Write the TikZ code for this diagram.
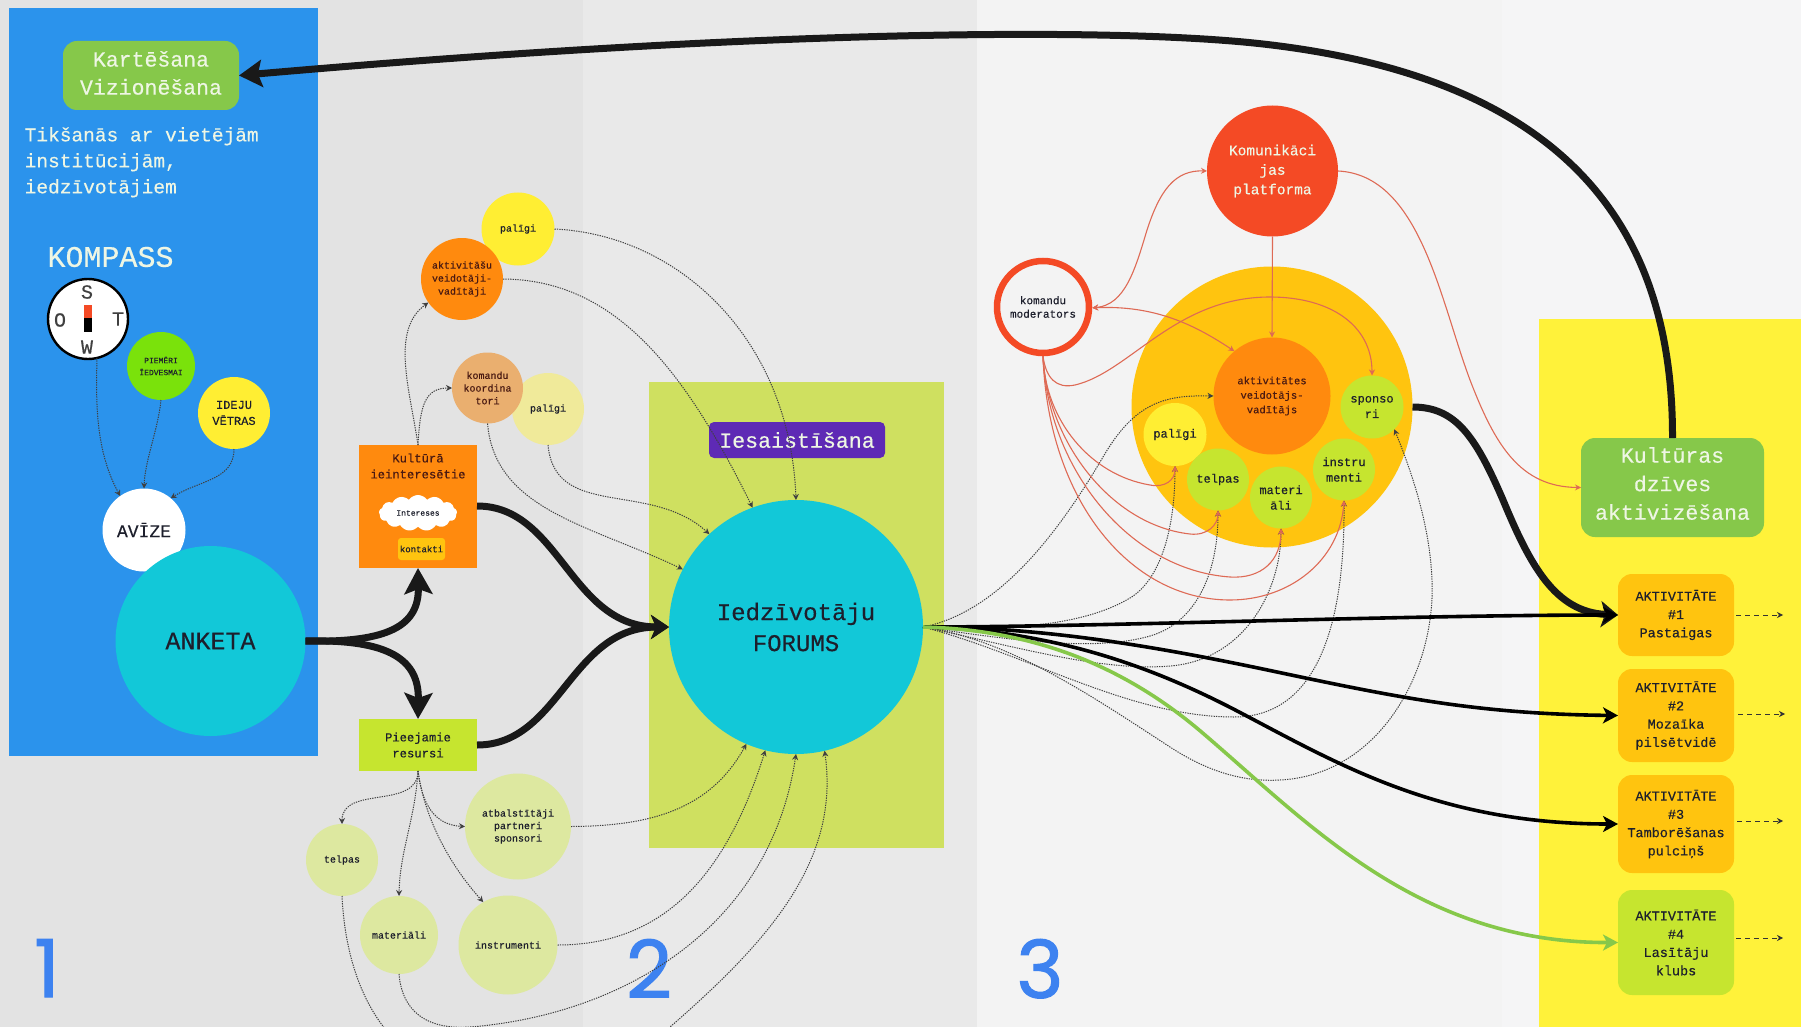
\documentclass[tikz,border=0pt]{standalone}
\usepackage{fontspec}
\setmainfont[FakeBold=0.35]{Liberation Mono}
\newfontfamily\numfont[FakeBold=1.4]{Poppins}
\usetikzlibrary{arrows.meta,shapes.symbols}
\newcommand{\fs}[2]{\fontsize{#1}{#2}\selectfont}
\definecolor{bandA}{HTML}{E3E3E3}
\definecolor{bandB}{HTML}{E9E9E9}
\definecolor{bandC}{HTML}{F3F3F3}
\definecolor{bandD}{HTML}{F5F5F6}
\definecolor{blueP}{HTML}{2B93EC}
\definecolor{cyanC}{HTML}{12C8D8}
\definecolor{leaf}{HTML}{86C84A}
\definecolor{limeA}{HTML}{CFE060}
\definecolor{limeB}{HTML}{C6E52F}
\definecolor{limeC}{HTML}{DDE8A0}
\definecolor{limeD}{HTML}{7AE20B}
\definecolor{yelA}{HTML}{FFF23A}
\definecolor{yelB}{HTML}{FFEE33}
\definecolor{paleY}{HTML}{F0EA9A}
\definecolor{amber}{HTML}{FFC40F}
\definecolor{orng}{HTML}{FF8A0E}
\definecolor{sand}{HTML}{EAAF6F}
\definecolor{redC}{HTML}{F44A25}
\definecolor{redL}{HTML}{DE6A55}
\definecolor{purp}{HTML}{5E2AB5}
\definecolor{ink}{HTML}{1D1F2C}
\definecolor{maroon}{HTML}{4A1A12}
\definecolor{soft}{HTML}{EEF6E4}
\definecolor{numblue}{HTML}{3D82F0}
\tikzset{
  disc/.style={circle,inner sep=0pt,outer sep=0pt,align=center,text=ink},
  panel/.style={rectangle,inner sep=0pt,outer sep=0pt,align=center,text=ink},
  rbox/.style={panel,rounded corners=14pt},
  dotline/.style={draw=black!75,line width=1pt,dash pattern=on 1.3pt off 1.1pt,-{Stealth[length=6pt,width=6pt]}},
  dashline/.style={draw=black!80,line width=1pt,dash pattern=on 5pt off 4pt,-{Stealth[length=6pt,width=6pt]}},
  redline/.style={draw=redL,line width=1.1pt,-{Stealth[length=6pt,width=6pt]}},
  redboth/.style={draw=redL,line width=1.1pt,{Stealth[length=6pt,width=6pt]}-{Stealth[length=6pt,width=6pt]}},
  heavy/.style={draw=black!90,line width=7pt},
  medium/.style={draw=black,line width=3.6pt,-{Stealth[length=15pt,width=16pt,inset=4pt]}},
  numeral/.style={text=numblue,font=\numfont\fs{80}{80}}
}
\begin{document}
\begin{tikzpicture}[x=1pt,y=-1pt]
\useasboundingbox (0,0) rectangle (1801,1027);
\clip (0,0) rectangle (1801,1027);
% bands
\fill[bandA] (0,0) rectangle (583,1027);
\fill[bandB] (583,0) rectangle (977,1027);
\fill[bandC] (977,0) rectangle (1502,1027);
\fill[bandD] (1502,0) rectangle (1801,1027);
\fill[yelA] (1539,319) rectangle (1801,1027);
\fill[limeA] (649,382) rectangle (944,848);
% blue panel
\node[panel,fill=blueP,minimum width=309pt,minimum height=748pt] (bluepanel) at (163.5,382) {};
\node[rbox,fill=leaf,minimum width=176pt,minimum height=69pt] (kart) at (151,75.5) {};
\node[inner sep=0pt,align=center,text=soft,font=\fs{21.5}{28}] (karttext) at (151,73) {Kartēšana\\Vizionēšana};
\node[anchor=north west,inner sep=0pt,align=left,text=soft,font=\fs{19.5}{26}] (tiks) at (24.5,127) {Tikšanās ar vietējām\\institūcijām,\\iedzīvotājiem};
\node[text=soft,inner sep=0pt,font=\fs{30}{30}] (kompass) at (110.5,257) {KOMPASS};
% compass
\node[disc,fill=white,draw=black,line width=2.4pt,minimum size=80pt] (compass) at (88,319) {};
\node[text=black!75,inner sep=0pt,font=\fs{20}{20}] (cs) at (87,292) {S};
\node[text=black!75,inner sep=0pt,font=\fs{20}{20}] (co) at (60,320) {O};
\node[text=black!75,inner sep=0pt,font=\fs{20}{20}] (ct) at (118,319) {T};
\node[text=black!75,inner sep=0pt,font=\fs{20}{20}] (cw) at (87,347) {W};
\fill[redC] (84,305) rectangle (92,318);
\fill[black] (84,318) rectangle (92,332);
\node[disc,fill=limeD,minimum size=68pt,font=\fs{8}{12}] (piem) at (161,366) {PIEMĒRI\\ĪEDVESMAI};
\node[disc,fill=yelB,minimum size=72pt,font=\fs{12}{16}] (idej) at (234,413) {IDEJU\\VĒTRAS};
\node[disc,fill=white,minimum size=83pt,font=\fs{18}{18}] (aviz) at (144,530) {AVĪZE};
\node[disc,fill=cyanC,minimum size=190pt,font=\fs{25}{25}] (anke) at (210.5,641) {ANKETA};
% column 2 upper
\node[disc,fill=yelB,minimum size=73pt,font=\fs{10}{13}] (pal1) at (518,229) {palīgi};
\node[disc,fill=orng,minimum size=82pt,text=maroon,font=\fs{10}{13}] (akt1) at (462,279) {aktivitāšu\\veidotāji-\\vadītāji};
\node[disc,fill=paleY,minimum size=72pt,font=\fs{10}{13}] (pal2) at (548,409) {palīgi};
\node[disc,fill=sand,minimum size=71pt,text=maroon,font=\fs{10}{12.7}] (koor) at (487.5,388) {komandu\\koordina\\tori};
\node[panel,fill=orng,minimum width=118pt,minimum height=123pt] (kult) at (418,506.5) {};
\node[inner sep=0pt,align=center,text=maroon,font=\fs{12.2}{16}] (kulttext) at (418,466) {Kultūrā\\ieinteresētie};
\node[cloud,cloud puffs=13,cloud puff arc=110,aspect=2.4,fill=white,inner sep=0pt,outer sep=0pt,minimum width=78pt,minimum height=36pt,text=ink,font=\fs{8}{8}] (clou) at (418,513) {Intereses};
\node[panel,fill=amber,rounded corners=3pt,minimum width=47pt,minimum height=22pt,font=\fs{9}{9}] (kont) at (421.5,549) {kontakti};
\node[panel,fill=limeB,minimum width=118pt,minimum height=52pt,font=\fs{12.2}{16}] (piee) at (418,745) {Pieejamie\\resursi};
% column 2 lower
\node[disc,fill=limeC,minimum size=106pt,font=\fs{10}{12.5}] (atba) at (518,826.5) {atbalstītāji\\partneri\\sponsori};
\node[disc,fill=limeC,minimum size=72pt,font=\fs{10}{10}] (tel1) at (342,860) {telpas};
\node[disc,fill=limeC,minimum size=78pt,font=\fs{10}{10}] (mat1) at (399,935) {materiāli};
\node[disc,fill=limeC,minimum size=99pt,font=\fs{10}{10}] (ins1) at (508,945) {instrumenti};
% forum
\node[disc,fill=cyanC,minimum size=254pt,font=\fs{24}{31}] (foru) at (796,627) {Iedzīvotāju\\FORUMS};
\node[panel,fill=purp,rounded corners=5pt,minimum width=176pt,minimum height=36pt,text=soft,font=\fs{21.6}{21.6}] (iesa) at (797,440) {Iesaistīšana};
% column 3
\node[disc,fill=amber,minimum size=281pt] (bigc) at (1272,407) {};
\node[disc,fill=redC,minimum size=131pt,text=soft,font=\fs{14.5}{19.5}] (komu) at (1272.5,171) {Komunikāci\\jas\\platforma};
\node[disc,fill=bandC,draw=redC,line width=6.5pt,outer sep=3.25pt,minimum size=92pt,font=\fs{11}{13.5}] (mode) at (1043,307) {komandu\\moderators};
\node[disc,fill=orng,minimum size=117pt,text=maroon,font=\fs{10.5}{14.5}] (akt2) at (1272,396) {aktivitātes\\veidotājs-\\vadītājs};
\node[disc,fill=limeB,minimum size=63pt,font=\fs{12}{15.5}] (spon) at (1372,407) {sponso\\ri};
\node[disc,fill=yelB,minimum size=63pt,font=\fs{12}{15}] (pal3) at (1175,434.5) {palīgi};
\node[disc,fill=limeB,minimum size=62pt,font=\fs{12}{15}] (tel2) at (1218,479.5) {telpas};
\node[disc,fill=limeB,minimum size=62pt,font=\fs{12}{15.5}] (mat2) at (1281,497.5) {materi\\āli};
\node[disc,fill=limeB,minimum size=62pt,font=\fs{12}{15.5}] (ins2) at (1344,469.5) {instru\\menti};
% right column
\node[rbox,fill=leaf,minimum width=183pt,minimum height=99pt] (kdzi) at (1672.5,487.5) {};
\node[inner sep=0pt,align=center,text=soft,font=\fs{21.5}{28.5}] (kdzitext) at (1672.5,483.5) {Kultūras\\dzīves\\aktivizēšana};
\node[rbox,fill=amber,minimum width=116pt,minimum height=82pt,font=\fs{13.5}{18.3}] (box1) at (1676,615) {AKTIVITĀTE\\\#1\\Pastaigas};
\node[rbox,fill=amber,minimum width=116pt,minimum height=93pt,font=\fs{13.5}{18.3}] (box2) at (1676,715.5) {AKTIVITĀTE\\\#2\\Mozaīka\\pilsētvidē};
\node[rbox,fill=amber,minimum width=116pt,minimum height=98pt,font=\fs{13.5}{18.3}] (box3) at (1676,824) {AKTIVITĀTE\\\#3\\Tamborēšanas\\pulciņš};
\node[rbox,fill=limeB,minimum width=116pt,minimum height=105pt,font=\fs{13.5}{18.3}] (box4) at (1676,942.5) {AKTIVITĀTE\\\#4\\Lasītāju\\klubs};
\coordinate (e1) at (1783,615);
\coordinate (e2) at (1785,714);
\coordinate (e3) at (1783,821);
\coordinate (e4) at (1783,938);
% numerals
\node[numeral,inner sep=0pt,anchor=base] (n1) at (47,997) {1};
\node[numeral,inner sep=0pt,anchor=base] (n2) at (649,998) {2};
\node[numeral,inner sep=0pt,anchor=base] (n3) at (1040,998) {3};
% dashed outputs
\draw[dashline,shorten <=2pt] (box1.east) -- (e1);
\draw[dashline,shorten <=4pt] (box2.east |- e2) -- (e2);
\draw[dashline,shorten <=3pt] (box3.east |- e3) -- (e3);
\draw[dashline,shorten <=2pt] (box4.east |- e4) -- (e4);
% dotted: column 1
\draw[dotline] (compass.-77) .. controls (96,400) and (95,450) .. (aviz.125);
\draw[dotline] (piem.south) .. controls (158,430) and (145,460) .. (aviz.north);
\draw[dotline] (idej.south) .. controls (234,480) and (200,480) .. (aviz.50);
% dotted: column 2
\draw[dotline] (kult.north) .. controls (410,390) and (390,330) .. (akt1.-145);
\draw[dotline] (kult.north) .. controls (420,405) and (425,388) .. (koor.west);
\draw[dotline] (pal1.east) .. controls (680,235) and (790,340) .. (foru.90);
\draw[dotline] (akt1.east) .. controls (610,280) and (680,360) .. (foru.110);
\draw[dotline] (koor.south) .. controls (495,510) and (590,525) .. (foru.153);
\draw[dotline] (pal2.south) .. controls (555,520) and (650,480) .. (foru.133);
\draw[dotline] (piee.south) .. controls (418,810) and (342,785) .. (tel1.north);
\draw[dotline] (piee.south) .. controls (415,820) and (400,850) .. (mat1.north);
\draw[dotline] (piee.south) .. controls (422,805) and (435,825) .. (atba.west);
\draw[dotline] (piee.south) .. controls (425,820) and (450,865) .. (ins1.120);
\draw[dotline] (atba.east) .. controls (650,826) and (710,810) .. (foru.-113);
\draw[dotline] (ins1.east) .. controls (660,945) and (725,880) .. (foru.-104.5);
\draw[dotline] (mat1.south) .. controls (402,1010) and (425,1030) .. (470,1027) .. controls (620,1015) and (770,930) .. (foru.-90);
\draw[dotline] (tel1.south) .. controls (345,960) and (365,1010) .. (395,1040) .. controls (450,1090) and (600,1090) .. (670,1027) .. controls (770,940) and (840,860) .. (foru.-77.5);
% dotted: column 3
\draw[dotline] (foru.east) .. controls (1000,612) and (1060,530) .. (1103,457) .. controls (1135,402) and (1165,395) .. (akt2.180);
\draw[dotline] (foru.east) .. controls (1000,630) and (1080,628) .. (1130,598) .. controls (1160,580) and (1175,530) .. (pal3.south);
\draw[dotline] (foru.east) .. controls (1010,640) and (1095,652) .. (1150,636) .. controls (1195,623) and (1218,575) .. (tel2.south);
\draw[dotline] (foru.east) .. controls (1010,645) and (1100,672) .. (1170,666) .. controls (1245,660) and (1281,590) .. (mat2.south);
\draw[dotline] (foru.east) .. controls (1030,655) and (1130,717) .. (1234,717) .. controls (1310,717) and (1345,640) .. (ins2.south);
\draw[dotline] (foru.east) .. controls (1010,640) and (1090,695) .. (1170,747) .. controls (1210,773) and (1245,782) .. (1280,780) .. controls (1380,775) and (1436,670) .. (1432,580) .. controls (1430,530) and (1415,480) .. (spon.-45);
% red
\draw[redboth] (mode.-1) .. controls (1125,305) and (1135,270) .. (1147,230) .. controls (1160,190) and (1175,170) .. (komu.180);
\draw[redline] (komu.south) -- (akt2.north);
\draw[redboth] (mode.-1) .. controls (1155,305) and (1195,325) .. (akt2.130);
\draw[redline] (mode.south) .. controls (1046,378) and (1056,389) .. (1075,385) .. controls (1130,372) and (1175,297) .. (1270,297) .. controls (1330,297) and (1372,325) .. (spon.north);
\draw[redline] (mode.south) .. controls (1045,420) and (1090,475) .. (1150,485) .. controls (1165,488) and (1175,480) .. (pal3.south);
\draw[redline] (mode.south) .. controls (1047,440) and (1110,525) .. (1190,534) .. controls (1207,536) and (1218,525) .. (tel2.south);
\draw[redline] (mode.south) .. controls (1048,470) and (1130,570) .. (1230,577) .. controls (1262,579) and (1281,560) .. (mat2.south);
\draw[redline] (mode.south) .. controls (1048,500) and (1130,600) .. (1230,600) .. controls (1290,600) and (1340,560) .. (ins2.south);
\draw[redline] (komu.east) .. controls (1420,175) and (1440,300) .. (1470,380) .. controls (1495,445) and (1520,487) .. (kdzi.west);
% heavy
\draw[heavy,-{Stealth[length=26pt,width=28pt,inset=5pt]}] (anke.east) .. controls (390,643) and (419,625) .. (kult.south);
\draw[heavy,-{Stealth[length=26pt,width=28pt,inset=5pt]}] (anke.east) .. controls (390,639) and (419,660) .. (piee.north);
\draw[heavy,-{Stealth[length=18pt,width=24pt,inset=5pt]}] (kult.east |- 0,506) .. controls (560,506) and (570,627) .. (foru.west);
\draw[heavy,-{Stealth[length=18pt,width=24pt,inset=5pt]}] (piee.east) .. controls (560,745) and (570,627) .. (foru.west);
\draw[draw=black!90,line width=7pt,-{Stealth[length=23pt,width=27pt,inset=4pt]}] (kdzi.north) .. controls (1673,240) and (1580,80) .. (1263,44) .. controls (1113,27) and (760,30) .. (kart.east);
\draw[heavy,-{Stealth[length=17pt,width=26pt,inset=4pt]}] (bigc.east) .. controls (1455,407) and (1475,435) .. (1503,500) .. controls (1530,565) and (1555,612) .. (box1.west);
\draw[medium] (foru.east) .. controls (1100,627) and (1400,615) .. (box1.west);
\draw[medium] (foru.east) .. controls (1040,627) and (1150,645) .. (1277,672) .. controls (1400,698) and (1480,714) .. (box2.west);
\draw[medium] (foru.east) .. controls (1050,630) and (1150,665) .. (1241,713) .. controls (1340,765) and (1440,824) .. (box3.west);
\draw[draw=leaf,line width=3.6pt,-{Stealth[length=15pt,width=16pt,inset=4pt]}] (foru.east) .. controls (1040,630) and (1130,670) .. (1205,735) .. controls (1310,825) and (1420,943) .. (box4.west);
\end{tikzpicture}
\end{document}
